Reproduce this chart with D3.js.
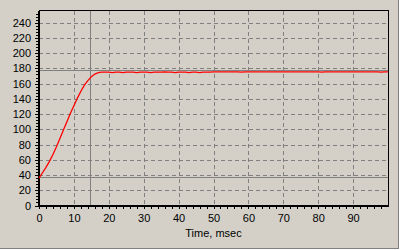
<!DOCTYPE html>
<html><head><meta charset="utf-8">
<script src="https://cdn.jsdelivr.net/npm/d3@7"></script>
<style>
html,body{margin:0;padding:0;background:#d4d0c8;}
svg{display:block;}
text{font-family:Arial,"Liberation Sans",sans-serif;font-size:11px;fill:#000;}
</style></head><body>
<svg id="c" width="400" height="250"></svg>
<script>
const xTicks = [0,10,20,30,40,50,60,70,80,90];
const yTicks = [0,20,40,60,80,100,120,140,160,180,200,220,240];
const xLabel = "Time, msec";
const timeMs = d3.range(0, 101, 1);
const signal = [
 36,43,50,58,67,77,88,99,110,121,
 131,141,150,158,164,169,172.5,174.5,175,175,
 175,174.5,175,175,174.5,175,175,175,174.5,175,
 175,175,174.5,175,175,175,175.5,175,175,174.5,
 175,175,175,174.5,175,175,174.5,175,175,175,
 175.5,175.5,175.5,175.5,175.5,175.5,175.5,175.5,175,175.5,
 175.5,175.5,175.5,175.5,175.5,175.5,175.5,175.5,175.5,175.5,
 175.5,175.5,175.5,175.5,175.5,175.5,175.5,175.5,175.5,175.5,
 175.5,175,175.5,175.5,175.5,175.5,175.5,175.5,175.5,175.5,
 175.5,175.5,175.5,175.5,175.5,175.5,175.5,175.5,175,175.5,175.5
];
const cursorX = [14.6];
const cursorY = [178.5, 37.5];

const svg = d3.select("#c");
const L=39, R=388, T=10.5, B=205.5;
const x = d3.scaleLinear().domain([0,100]).range([L,R]);
const y = d3.scaleLinear().domain([0,256]).range([B,T]);
const g = svg.append("g");

// window frame
g.append("line").attr("x1",398.5).attr("x2",398.5).attr("y1",0).attr("y2",249).attr("stroke","#808080");
g.append("line").attr("x1",0).attr("x2",399).attr("y1",248.5).attr("y2",248.5).attr("stroke","#808080");
g.append("line").attr("x1",399.5).attr("x2",399.5).attr("y1",0).attr("y2",250).attr("stroke","#ffffff");
g.append("line").attr("x1",0).attr("x2",400).attr("y1",249.5).attr("y2",249.5).attr("stroke","#ffffff");

// grid
const grid = g.append("g").attr("stroke","#808080").attr("stroke-dasharray","4,3").attr("shape-rendering","crispEdges");
xTicks.filter(d=>d>0).forEach(d=>{
  grid.append("line").attr("x1",Math.round(x(d))+0.5).attr("x2",Math.round(x(d))+0.5).attr("y1",T).attr("y2",B);
});
yTicks.filter(d=>d>0).forEach(d=>{
  grid.append("line").attr("x1",L).attr("x2",R).attr("y1",Math.round(y(d))+0.5).attr("y2",Math.round(y(d))+0.5);
});

// cursors
const cur = g.append("g").attr("stroke","#808080").attr("shape-rendering","crispEdges");
cursorX.forEach(d=>cur.append("line").attr("x1",Math.round(x(d))+0.5).attr("x2",Math.round(x(d))+0.5).attr("y1",T).attr("y2",B));
cursorY.forEach(d=>cur.append("line").attr("x1",L).attr("x2",R).attr("y1",Math.round(y(d))+0.5).attr("y2",Math.round(y(d))+0.5));

// frame
const fr = g.append("g").attr("stroke","#000").attr("shape-rendering","crispEdges");
fr.append("line").attr("x1",L).attr("x2",R+1).attr("y1",T).attr("y2",T);
fr.append("line").attr("x1",R+0.5).attr("x2",R+0.5).attr("y1",T).attr("y2",B+1);

// axes via d3
const xAxis = d3.axisBottom(x).tickValues(xTicks).tickSize(3).tickPadding(6);
const xa = g.append("g").attr("transform",`translate(0,${B})`).call(xAxis);
xa.select(".domain").remove();
const yAxis = d3.axisLeft(y).tickValues(yTicks).tickSize(3).tickPadding(4);
const ya = g.append("g").attr("transform",`translate(${L-1},0)`).call(yAxis);
ya.select(".domain").remove();
[xa,ya].forEach(a=>{a.selectAll("text").style("font-family","Arial, 'Liberation Sans', sans-serif").style("font-size","11px").attr("fill","#000");
 a.selectAll("line").attr("stroke","#000").attr("shape-rendering","crispEdges");});

// minor ticks
const mx = d3.range(2,100,2);
g.append("g").selectAll("line").data(mx).join("line")
 .attr("x1",d=>Math.round(x(d))+0.5).attr("x2",d=>Math.round(x(d))+0.5).attr("y1",B).attr("y2",B+3)
 .attr("stroke","#000").attr("shape-rendering","crispEdges");
const my = d3.range(4,256,4);
g.append("g").selectAll("line").data(my).join("line")
 .attr("y1",d=>Math.round(y(d))+0.5).attr("y2",d=>Math.round(y(d))+0.5).attr("x1",L-3).attr("x2",L-1)
 .attr("stroke","#000").attr("shape-rendering","crispEdges");

// thick left/bottom axis lines
fr.append("line").attr("x1",L-0.5).attr("x2",L-0.5).attr("y1",T).attr("y2",B+1).attr("stroke-width",2);
fr.append("line").attr("x1",L-1).attr("x2",R+1).attr("y1",B).attr("y2",B).attr("stroke-width",2);

// curve (on top)
const line = d3.line().x((d,i)=>x(timeMs[i])).y(d=>y(d));
g.append("path").datum(signal).attr("d",line).attr("fill","none").attr("stroke","#ff0000").attr("stroke-width",1.3);

g.append("text").attr("x",(L+R)/2).attr("y",237).attr("text-anchor","middle").text(xLabel);
</script>
</body></html>
